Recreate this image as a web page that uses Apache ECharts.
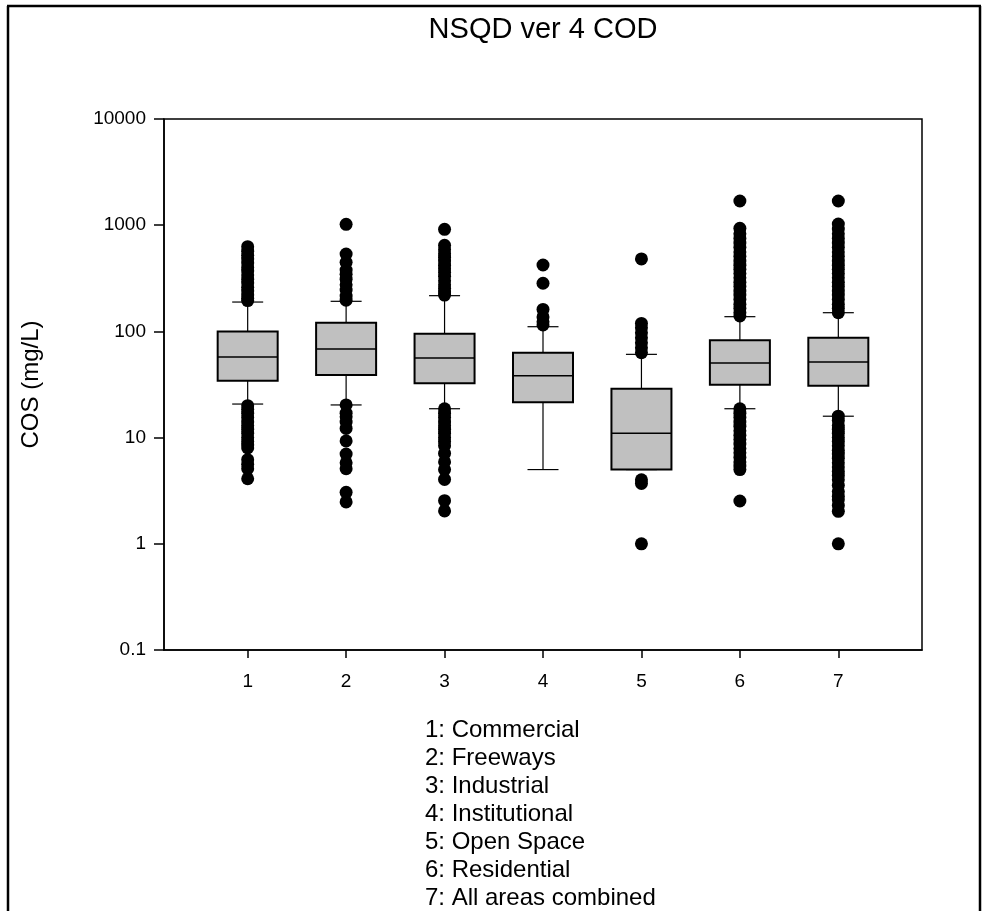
<!DOCTYPE html>
<html><head><meta charset="utf-8">
<script src="https://cdn.jsdelivr.net/npm/echarts@6/dist/echarts.min.js"></script>
<style>html,body{margin:0;padding:0;background:#fff}#c{width:982px;height:911px}</style>
</head><body><div id="c"></div>
<script>
// ---- data ----
const categories = [1, 2, 3, 4, 5, 6, 7];
const categoryLabels = ['1', '2', '3', '4', '5', '6', '7'];
const yTicks = [0.1, 1, 10, 100, 1000, 10000];
const yTickLabels = ['0.1', '1', '10', '100', '1000', '10000'];
const legendLines = [
  '1: Commercial',
  '2: Freeways',
  '3: Industrial',
  '4: Institutional',
  '5: Open Space',
  '6: Residential',
  '7: All areas combined'
];
const lowerWhisker = [20.7, 20.3, 18.7, 5.0, 5.0, 18.7, 15.9];
const q1 = [34.3, 38.8, 32.5, 21.5, 5.0, 31.5, 30.8];
const median = [57.4, 68.3, 56.2, 38.3, 11.0, 50.4, 51.5];
const q3 = [100, 120.7, 95, 63, 28.9, 82.4, 87.3];
const upperWhisker = [189, 192, 217, 110.7, 60.8, 137.6, 150];

const outliers1 = [195, 205, 220, 240, 260, 285, 310, 340, 370, 400, 440, 480, 520, 570, 628,
  20, 18.5, 17, 15.5, 14, 13, 12, 11, 10, 9.2, 8.5, 8.0, 6.2, 5.6, 5.1, 4.1];
const outliers2 = [197, 215, 245, 275, 310, 345, 378, 448, 535, 1019,
  20.3, 17, 15.7, 14, 12.2, 9.3, 7.0, 5.8, 5.1, 3.05, 2.48];
const outliers3 = [220, 235, 255, 275, 300, 330, 360, 390, 420, 460, 500, 540, 590, 647, 915,
  18.7, 17, 15.5, 14, 13, 12, 11, 10, 9.2, 8.4, 7.1, 5.9, 5.0, 4.04, 2.55, 2.04];
const outliers4 = [115, 123, 137, 161, 284, 422];
const outliers5 = [63, 70, 78, 87, 97, 108, 119, 481, 4.0, 3.7, 1.0];
const outliers6 = [140, 150, 165, 180, 200, 220, 240, 265, 290, 320, 350, 385, 420, 460, 510, 560,
  620, 680, 750, 830, 935, 1690,
  18.7, 17, 15.5, 14, 12.8, 11.6, 10.5, 9.6, 8.7, 7.9, 7.2, 6.5, 5.9, 5.4, 5.0, 2.53];
const outliers7 = [150, 165, 180, 200, 220, 240, 265, 290, 320, 350, 385, 420, 460, 510, 560, 620,
  680, 750, 830, 920, 1026, 1690,
  15.9, 14.5, 13, 12, 11, 10, 9.2, 8.4, 7.6, 7.0, 6.4, 5.8, 5.3, 4.8, 4.4, 4.0, 3.55, 3.1, 2.8,
  2.6, 2.3, 2.02, 1.0];
const outliers = [outliers1, outliers2, outliers3, outliers4, outliers5, outliers6, outliers7];

// ---- build ----
const FONT = 'Liberation Sans, Arial, sans-serif';
const BOX_W = 60, CAP_W = 31;
const boxData = categories.map((c, i) => [c, lowerWhisker[i], q1[i], median[i], q3[i], upperWhisker[i]]);
const outlierData = [];
outliers.forEach((arr, i) => arr.forEach(v => outlierData.push([categories[i], v])));

const chart = echarts.init(document.getElementById('c'), null, {renderer: 'canvas'});

const legendGraphics = legendLines.map((t, i) => ({
  type: 'text', x: 425, y: 718 + i * 28.05,
  style: {text: t, font: '24px ' + FONT, fill: '#000', textAlign: 'left', textVerticalAlign: 'top', align: 'left', verticalAlign: 'top'}
}));

const option = {
  animation: false,
  backgroundColor: '#fff',
  grid: {left: 164, top: 119, right: 60, bottom: 261, show: true, borderColor: '#000', borderWidth: 1.5, backgroundColor: 'transparent'},
  xAxis: {
    type: 'value', min: 0.15, max: 7.85,
    axisLine: {show: true, onZero: false, lineStyle: {color: '#000', width: 1.5}},
    axisTick: {show: true, customValues: categories, length: 8, lineStyle: {color: '#000', width: 1.5}},
    axisLabel: {customValues: categories, margin: 22, fontFamily: FONT, fontSize: 19, color: '#000',
      formatter: v => categoryLabels[categories.indexOf(Math.round(v))] || ''},
    splitLine: {show: false}
  },
  yAxis: {
    type: 'log', logBase: 10, min: 0.1, max: 10000,
    name: 'COS (mg/L)', nameLocation: 'middle', nameGap: 121, nameRotate: 90,
    nameTextStyle: {fontFamily: FONT, fontSize: 24, color: '#000'},
    axisLine: {show: true, lineStyle: {color: '#000', width: 1.5}},
    axisTick: {show: true, length: 10, lineStyle: {color: '#000', width: 1.5}},
    axisLabel: {margin: 18, fontFamily: FONT, fontSize: 19, color: '#000',
      formatter: v => {
        let best = 0, bd = Infinity;
        yTicks.forEach((t, i) => { const d = Math.abs(Math.log10(t) - Math.log10(v)); if (d < bd) { bd = d; best = i; } });
        return yTickLabels[best];
      }},
    splitLine: {show: false}
  },
  graphic: [
    {type: 'line', shape: {x1: 8, y1: 6, x2: 8, y2: 920}, style: {stroke: '#000', lineWidth: 2.5}},
    {type: 'line', shape: {x1: 7, y1: 6, x2: 981, y2: 6}, style: {stroke: '#000', lineWidth: 2.5}},
    {type: 'line', shape: {x1: 980, y1: 6, x2: 980, y2: 920}, style: {stroke: '#000', lineWidth: 2.5}},
    {type: 'text', x: 543, y: 15,
      style: {text: 'NSQD ver 4 COD', font: '29px ' + FONT, fill: '#000', textAlign: 'center', textVerticalAlign: 'top', align: 'center', verticalAlign: 'top'}}
  ].concat(legendGraphics),
  series: [
    {
      type: 'custom',
      data: boxData,
      encode: {x: 0, y: [1, 2, 3, 4, 5]},
      z: 2,
      renderItem: function (params, api) {
        const x = api.value(0);
        const pLow = api.coord([x, api.value(1)]);
        const pQ1 = api.coord([x, api.value(2)]);
        const pMed = api.coord([x, api.value(3)]);
        const pQ3 = api.coord([x, api.value(4)]);
        const pHigh = api.coord([x, api.value(5)]);
        const cx = pQ1[0];
        const hw = BOX_W / 2, cw = CAP_W / 2;
        const ln = {stroke: '#000', lineWidth: 1.2};
        return {type: 'group', children: [
          {type: 'line', shape: {x1: cx, y1: pQ3[1], x2: cx, y2: pHigh[1]}, style: ln},
          {type: 'line', shape: {x1: cx, y1: pQ1[1], x2: cx, y2: pLow[1]}, style: ln},
          {type: 'line', shape: {x1: cx - cw, y1: pHigh[1], x2: cx + cw, y2: pHigh[1]}, style: ln},
          {type: 'line', shape: {x1: cx - cw, y1: pLow[1], x2: cx + cw, y2: pLow[1]}, style: ln},
          {type: 'rect', shape: {x: cx - hw, y: pQ3[1], width: BOX_W, height: pQ1[1] - pQ3[1]},
            style: {fill: '#c0c0c0', stroke: '#000', lineWidth: 2}},
          {type: 'line', shape: {x1: cx - hw, y1: pMed[1], x2: cx + hw, y2: pMed[1]}, style: {stroke: '#000', lineWidth: 1.5}}
        ]};
      }
    },
    {
      type: 'scatter',
      data: outlierData,
      symbol: 'circle',
      symbolSize: 13,
      z: 3,
      itemStyle: {color: '#000', opacity: 1}
    }
  ]
};
chart.setOption(option);
</script>
</body></html>
